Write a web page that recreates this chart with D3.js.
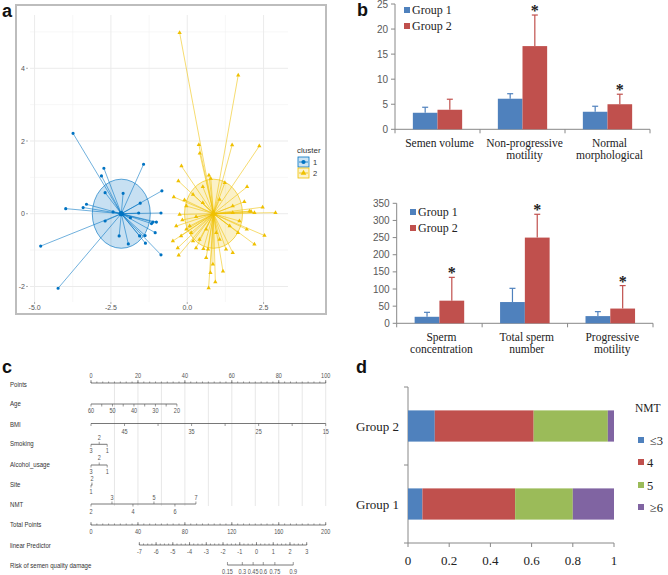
<!DOCTYPE html>
<html><head><meta charset="utf-8">
<script src="https://cdn.jsdelivr.net/npm/d3@7"></script>
<style>body{margin:0;background:#fff}svg{display:block}</style>
</head><body><svg id="chart" width="668" height="575"></svg>
<script>
// ================= DATA =================
// Panel a: cluster plot
const clusterNames = ["1", "2"];
const cluster1Center = [-2.16, 0.0];
const cluster2Center = [0.86, 0.0];
const clusterRadius = [0.95, 0.95];
const cluster1Points = [
  [-3.74,2.21],[-2.73,1.25],[-2.81,1.04],[-1.43,1.36],[-0.83,0.63],[-2.10,0.56],[-2.69,0.58],
  [-1.54,0.29],[-3.30,0.26],[-3.41,0.17],[-3.98,0.14],[-2.43,0.05],[-1.59,0.02],[-0.86,0.02],
  [-1.86,-0.11],[-1.12,-0.23],[-1.01,-0.23],[-1.17,-0.27],[-2.69,-0.20],[-1.05,-0.52],
  [-1.38,-0.60],[-1.56,-0.61],[-2.23,-0.61],[-1.93,-0.83],[-1.37,-0.81],[-0.86,-1.13],
  [-4.80,-0.89],[-4.23,-2.05]
];
const cluster2Points = [
  [-0.25,4.98],[1.67,3.81],[2.36,1.86],[1.47,1.89],[0.38,1.90],[0.41,1.66],[-0.19,1.31],
  [0.71,1.06],[0.77,0.97],[-0.29,0.90],[1.23,0.85],[1.96,0.74],[0.51,0.74],[0.19,0.53],
  [-0.44,0.46],[-0.09,0.38],[1.87,0.33],[2.47,0.18],[2.89,0.03],[2.04,0.07],[2.09,0.06],
  [1.49,0.03],[-0.25,-0.02],[-0.16,-0.17],[0.29,-0.08],[-0.36,-0.34],[-0.03,-0.43],
  [0.13,-0.52],[-0.47,-0.75],[1.95,-0.43],[2.53,-0.60],[2.20,-0.84],[1.49,-1.07],
  [1.27,-0.98],[-0.31,-0.94],[0.29,-0.94],[0.53,-0.96],[0.68,-0.98],[-0.28,-1.14],
  [0.62,-1.21],[0.84,-1.39],[1.17,-1.58],[0.76,-1.62],[0.92,-1.88],[0.70,-2.04],
  [0.40,-0.71],[1.06,-0.71],[0.08,-0.34],[1.39,-0.34],[1.71,-0.20],[0.51,0.30],
  [1.06,0.39],[1.49,0.21],[-0.03,0.21],[0.62,-0.43],[0.95,-0.52],[0.19,-0.75],
  [1.66,-0.52],[-0.20,-0.61],[2.20,0.03]
];
const scatterXTicks = [-5, -2.5, 0, 2.5];
const scatterXTickLabels = ["-5.0", "-2.5", "0.0", "2.5"];
const scatterYTicks = [-2, 0, 2, 4];

// Panel b: grouped bar charts
const groups = ["Group 1", "Group 2"];
const topCategories = ["Semen volume", "Non-progressive motility", "Normal morphological"];
const topCategoryLines = [["Semen volume"], ["Non-progressive", "motility"], ["Normal", "morphological"]];
const topGroup1 = [3.3, 6.1, 3.5];
const topGroup2 = [3.9, 16.6, 5.0];
const topGroup1Err = [1.1, 1.0, 1.1];
const topGroup2Err = [2.1, 6.2, 2.0];
const topSignificant = [false, true, true];
const topYTicks = [0, 5, 10, 15, 20, 25];

const bottomCategories = ["Sperm concentration", "Total sperm number", "Progressive motility"];
const bottomCategoryLines = [["Sperm", "concentration"], ["Total sperm", "number"], ["Progressive", "motility"]];
const bottomGroup1 = [19, 62, 21];
const bottomGroup2 = [66, 250, 43];
const bottomGroup1Err = [13, 40, 13];
const bottomGroup2Err = [68, 68, 67];
const bottomSignificant = [true, true, true];
const bottomYTicks = [0, 50, 100, 150, 200, 250, 300, 350];

// Panel c: nomogram
const nomoRows = ["Points", "Age", "BMI", "Smoking", "Alcohol_usage", "Site", "NMT", "Total Points", "linear Predictor", "Risk of semen quality damage"];
const pointsTicks = [0, 20, 40, 60, 80, 100];
const ageRange = [60, 20], agePointsRange = [0, 36.6];
const ageTicks = [60, 55, 50, 45, 40, 35, 30, 25, 20];
const ageLabels = [60, 50, 40, 30, 20];
const bmiRange = [50, 15], bmiPointsRange = [0, 100];
const bmiTicks = [50, 45, 40, 35, 30, 25, 20, 15];
const bmiLabels = [45, 35, 25, 15];
const smokingLevels = ["3", "2", "1"], smokingPoints = [0, 3.5, 6.9];
const alcoholLevels = ["3", "2", "1"], alcoholPoints = [0, 3.5, 6.9];
const siteLevels = ["1", "2"], sitePoints = [0, 0.4];
const nmtRange = [2, 7], nmtPointsRange = [0, 44.7];
const nmtLevels = [2, 3, 4, 5, 6, 7];
const totalPointsTicks = [0, 40, 80, 120, 160, 200];
const lpRange = [-7, 3], lpTotalRange = [41.2, 183.8];
const lpTicks = [-7, -6, -5, -4, -3, -2, -1, 0, 1, 2, 3];
const riskTicks = [0.15, 0.3, 0.45, 0.6, 0.75, 0.9];
const riskLabels = ["0.15", "0.3", "0.45", "0.6", "0.75", "0.9"];

// Panel d: stacked proportions
const nmtCategories = ["≤3", "4", "5", "≥6"];
const stackGroups = ["Group 2", "Group 1"];
const group1Props = [0.07, 0.45, 0.28, 0.20];
const group2Props = [0.13, 0.48, 0.36, 0.03];
const stackXTicks = [0, 0.2, 0.4, 0.6, 0.8, 1];
const stackXTickLabels = ["0", "0.2", "0.4", "0.6", "0.8", "1"];

// ================= DRAW =================
const svg = d3.select("#chart");
const SANS = "'Liberation Sans', Arial, sans-serif";
const SERIF = "'Liberation Serif', 'Times New Roman', serif";
const blue = "#4F81BD", red = "#C0504D", green = "#9BBB59", purple = "#8064A2";

function panelLetter(t, x, y) {
  svg.append("text").attr("x", x).attr("y", y).text(t)
    .attr("font-family", SANS).attr("font-weight", "bold").attr("font-size", 18).attr("fill", "#111");
}

// ---------- Panel a ----------
(function () {
  const g = svg.append("g");
  g.append("rect").attr("x", 16).attr("y", 5).attr("width", 310).attr("height", 309)
    .attr("fill", "#fff").attr("stroke", "#bdbdbd").attr("stroke-width", 2);
  const x = d3.scaleLinear([-5.15, 3.3], [30, 288]);
  const y = d3.scaleLinear([-2.4, 5.3], [301, 21]);
  const xMinor = [-3.75, -1.25, 1.25], yMinor = [-1, 1, 3, 5];
  g.selectAll(".vgm").data(xMinor).join("line").attr("x1", d => x(d)).attr("x2", d => x(d))
    .attr("y1", 15).attr("y2", 302).attr("stroke", "#f2f2f2").attr("stroke-width", 0.6);
  g.selectAll(".hgm").data(yMinor).join("line").attr("y1", d => y(d)).attr("y2", d => y(d))
    .attr("x1", 30).attr("x2", 288).attr("stroke", "#f2f2f2").attr("stroke-width", 0.6);
  g.selectAll(".vg").data(scatterXTicks).join("line").attr("x1", d => x(d)).attr("x2", d => x(d))
    .attr("y1", 15).attr("y2", 302).attr("stroke", "#ebebeb").attr("stroke-width", 1);
  g.selectAll(".hg").data(scatterYTicks).join("line").attr("y1", d => y(d)).attr("y2", d => y(d))
    .attr("x1", 30).attr("x2", 288).attr("stroke", "#ebebeb").attr("stroke-width", 1);
  g.selectAll(".xt").data(scatterXTicks).join("line").attr("x1", d => x(d)).attr("x2", d => x(d))
    .attr("y1", 302).attr("y2", 304).attr("stroke", "#777").attr("stroke-width", 0.6);
  g.selectAll(".xl").data(scatterXTicks).join("text").attr("x", d => x(d)).attr("y", 310)
    .attr("text-anchor", "middle").attr("font-family", SANS).attr("font-size", 7).attr("fill", "#555")
    .text((d, i) => scatterXTickLabels[i]);
  g.selectAll(".yt").data(scatterYTicks).join("line").attr("y1", d => y(d)).attr("y2", d => y(d))
    .attr("x1", 26).attr("x2", 28).attr("stroke", "#777").attr("stroke-width", 0.6);
  g.selectAll(".yl").data(scatterYTicks).join("text").attr("x", 25).attr("y", d => y(d) + 2.5)
    .attr("text-anchor", "end").attr("font-family", SANS).attr("font-size", 7).attr("fill", "#555").text(d => d);

  const clusters = [
    { c: cluster1Center, pts: cluster1Points, col: "#0073C2", r: clusterRadius[0], shape: d3.symbolCircle, size: 8 },
    { c: cluster2Center, pts: cluster2Points, col: "#EFC000", r: clusterRadius[1], shape: d3.symbolTriangle, size: 8 }
  ];
  clusters.forEach(cl => {
    g.append("ellipse").attr("cx", x(cl.c[0])).attr("cy", y(cl.c[1]))
      .attr("rx", x(cl.c[0] + cl.r) - x(cl.c[0])).attr("ry", y(cl.c[1]) - y(cl.c[1] + cl.r))
      .attr("fill", cl.col).attr("fill-opacity", 0.22).attr("stroke", cl.col).attr("stroke-opacity", 0.8).attr("stroke-width", 0.8);
  });
  clusters.forEach(cl => {
    g.selectAll(null).data(cl.pts).join("line")
      .attr("x1", x(cl.c[0])).attr("y1", y(cl.c[1])).attr("x2", d => x(d[0])).attr("y2", d => y(d[1]))
      .attr("stroke", cl.col).attr("stroke-opacity", 0.7).attr("stroke-width", 0.8);
    g.selectAll(null).data(cl.pts).join("path")
      .attr("transform", d => `translate(${x(d[0])},${y(d[1])})`)
      .attr("d", d3.symbol().type(cl.shape).size(cl.size)).attr("fill", cl.col);
    g.append("path").attr("transform", `translate(${x(cl.c[0])},${y(cl.c[1])})`)
      .attr("d", d3.symbol().type(cl.shape).size(22)).attr("fill", cl.col);
  });
  g.append("text").attr("x", 297).attr("y", 153).text("cluster").attr("font-family", SANS).attr("font-size", 8).attr("fill", "#333");
  clusters.forEach((cl, i) => {
    const ky = 157 + i * 11;
    g.append("rect").attr("x", 298).attr("y", ky).attr("width", 11).attr("height", 10)
      .attr("fill", cl.col).attr("fill-opacity", 0.2).attr("stroke", cl.col).attr("stroke-width", 0.8);
    g.append("line").attr("x1", 299).attr("x2", 308).attr("y1", ky + 5).attr("y2", ky + 5).attr("stroke", cl.col).attr("stroke-width", 0.8);
    g.append("path").attr("transform", `translate(303.5,${ky + 5})`).attr("d", d3.symbol().type(cl.shape).size(14)).attr("fill", cl.col);
    g.append("text").attr("x", 313).attr("y", ky + 8).text(clusterNames[i]).attr("font-family", SANS).attr("font-size", 7.5).attr("fill", "#333");
  });
  panelLetter("a", 2, 17);
})();

// ---------- Panel b ----------
function groupedBars(cfg) {
  const g = svg.append("g");
  const x0 = d3.scaleBand().domain(cfg.categories).range([cfg.left, cfg.right]).paddingInner(0.42).paddingOuter(0.21);
  const x1 = d3.scaleBand().domain(groups).range([0, x0.bandwidth()]);
  const y = d3.scaleLinear([0, cfg.max], [cfg.bottom, cfg.top]);
  const cols = [blue, red];
  g.append("line").attr("x1", cfg.left).attr("x2", cfg.left).attr("y1", cfg.top).attr("y2", cfg.bottom).attr("stroke", "#888");
  g.append("line").attr("x1", cfg.left).attr("x2", cfg.right).attr("y1", cfg.bottom).attr("y2", cfg.bottom).attr("stroke", "#888");
  g.selectAll(null).data(cfg.yTicks).join("line").attr("x1", cfg.left - 4).attr("x2", cfg.left)
    .attr("y1", d => y(d)).attr("y2", d => y(d)).attr("stroke", "#888");
  g.selectAll(null).data(cfg.yTicks).join("text").attr("x", cfg.left - 7).attr("y", d => y(d) + 3.5)
    .attr("text-anchor", "end").attr("font-family", SANS).attr("font-size", 10).attr("fill", "#595959").text(d => d);
  const step = x0.step();
  const seps = d3.range(cfg.categories.length + 1).map(i => cfg.left + i * step);
  g.selectAll(null).data(seps).join("line").attr("x1", d => d).attr("x2", d => d)
    .attr("y1", cfg.bottom).attr("y2", cfg.bottom + 4).attr("stroke", "#888");
  cfg.categories.forEach((c, i) => {
    const vals = [cfg.g1[i], cfg.g2[i]], errs = [cfg.e1[i], cfg.e2[i]];
    groups.forEach((gr, j) => {
      const bx = x0(c) + x1(gr), bw = x1.bandwidth(), cx = bx + bw / 2;
      g.append("rect").attr("x", bx).attr("y", y(vals[j])).attr("width", bw).attr("height", y(0) - y(vals[j])).attr("fill", cols[j]);
      const top = y(vals[j] + errs[j]);
      g.append("line").attr("x1", cx).attr("x2", cx).attr("y1", y(vals[j])).attr("y2", top).attr("stroke", cols[j]).attr("stroke-width", 1.2);
      g.append("line").attr("x1", cx - 3).attr("x2", cx + 3).attr("y1", top).attr("y2", top).attr("stroke", cols[j]).attr("stroke-width", 1.2);
      if (j === 1 && cfg.sig[i]) {
        g.append("text").attr("x", cx).attr("y", top + 1).attr("text-anchor", "middle")
          .attr("font-family", SERIF).attr("font-weight", "bold").attr("font-size", 16).attr("fill", "#222").text("*");
      }
    });
    cfg.lines[i].forEach((ln, k) => {
      g.append("text").attr("x", x0(c) + x0.bandwidth() / 2 + 2).attr("y", cfg.bottom + 18 + k * 12)
        .attr("text-anchor", "middle").attr("font-family", SERIF).attr("font-size", 11.5).attr("fill", "#222").text(ln);
    });
  });
  groups.forEach((gr, j) => {
    const ly = cfg.legY + j * 16;
    g.append("rect").attr("x", cfg.legX).attr("y", ly - 3).attr("width", 6).attr("height", 6).attr("fill", cols[j]);
    g.append("text").attr("x", cfg.legX + 8).attr("y", ly + 4).attr("font-family", SERIF).attr("font-size", 12).attr("fill", "#222").text(gr);
  });
}
groupedBars({ categories: topCategories, lines: topCategoryLines, g1: topGroup1, g2: topGroup2, e1: topGroup1Err, e2: topGroup2Err,
  sig: topSignificant, yTicks: topYTicks, max: 25, left: 395, right: 650, top: 4, bottom: 129.3, legX: 404, legY: 10 });
groupedBars({ categories: bottomCategories, lines: bottomCategoryLines, g1: bottomGroup1, g2: bottomGroup2, e1: bottomGroup1Err, e2: bottomGroup2Err,
  sig: bottomSignificant, yTicks: bottomYTicks, max: 350, left: 396.7, right: 653, top: 203.3, bottom: 323.3, legX: 410, legY: 212 });
panelLetter("b", 357, 16);

// ---------- Panel c ----------
(function () {
  const g = svg.append("g");
  const px = d3.scaleLinear([0, 100], [91, 325.7]);
  const tpx = d3.scaleLinear([0, 200], [91, 325.7]);
  const ageS = d3.scaleLinear(ageRange, agePointsRange);
  const bmiS = d3.scaleLinear(bmiRange, bmiPointsRange);
  const nmtS = d3.scaleLinear(nmtRange, nmtPointsRange);
  const lpS = d3.scaleLinear(lpRange, lpTotalRange);
  const logit = p => Math.log(p / (1 - p));
  const rowY = [383, 404, 423.5, 444.3, 465, 485, 504, 525, 545, 565];
  const labY = [384, 403, 424, 443, 464, 484, 504, 524, 545, 565];
  const stroke = "#555", tcol = "#555";
  g.selectAll(null).data(d3.range(10, 101, 10)).join("line").attr("x1", d => px(d)).attr("x2", d => px(d))
    .attr("y1", rowY[0]).attr("y2", 506).attr("stroke", "#dcdcdc").attr("stroke-width", 0.7);
  g.selectAll(null).data(nomoRows).join("text")
    .attr("transform", (d, i) => `translate(10,${labY[i] + 3}) scale(0.78,1)`)
    .attr("font-family", SANS).attr("font-size", 7.8).attr("fill", "#333").text(d => d);
  function hline(x1, x2, yy) { g.append("line").attr("x1", x1).attr("x2", x2).attr("y1", yy).attr("y2", yy).attr("stroke", stroke).attr("stroke-width", 0.8); }
  function tick(xx, yy, len) { g.append("line").attr("x1", xx).attr("x2", xx).attr("y1", yy).attr("y2", yy + len).attr("stroke", stroke).attr("stroke-width", 0.6); }
  function lab(xx, yy, t) {
    g.append("text").attr("transform", `translate(${xx},${yy + 2.3}) scale(0.85,1)`).attr("text-anchor", "middle")
      .attr("font-family", SANS).attr("font-size", 6.5).attr("fill", tcol).text(t);
  }
  // Points
  hline(px(0), px(100), rowY[0]);
  d3.range(0, 100.01, 2.5).forEach(v => tick(px(v), rowY[0], -1.5));
  pointsTicks.forEach(v => { tick(px(v), rowY[0], -3); lab(px(v), rowY[0] - 7, v); });
  // Age
  hline(px(ageS(ageRange[0])), px(ageS(ageRange[1])), rowY[1]);
  ageTicks.forEach(v => tick(px(ageS(v)), rowY[1], 2.5));
  ageLabels.forEach(v => lab(px(ageS(v)), rowY[1] + 7, v));
  // BMI
  hline(px(bmiS(bmiRange[0])), px(bmiS(bmiRange[1])), rowY[2]);
  bmiTicks.forEach(v => tick(px(bmiS(v)), rowY[2], 2.5));
  bmiLabels.forEach(v => lab(px(bmiS(v)), rowY[2] + 8, v));
  // Smoking & Alcohol
  [[smokingLevels, smokingPoints, rowY[3]], [alcoholLevels, alcoholPoints, rowY[4]]].forEach(([lv, pt, yy]) => {
    hline(px(d3.min(pt)), px(d3.max(pt)), yy);
    lv.forEach((l, i) => {
      const up = l === "2";
      tick(px(pt[i]), yy, up ? -2.5 : 2.5);
      lab(px(pt[i]), up ? yy - 7 : yy + 6.5, l);
    });
  });
  // Site
  hline(px(d3.min(sitePoints)), px(d3.max(sitePoints)) + 0.5, rowY[5]);
  siteLevels.forEach((l, i) => {
    const up = l === "2";
    tick(px(sitePoints[i]), rowY[5], up ? -2.5 : 2.5);
    lab(px(sitePoints[i]), up ? rowY[5] - 6 : rowY[5] + 6.5, l);
  });
  // NMT
  hline(px(nmtS(nmtRange[0])), px(nmtS(nmtRange[1])), rowY[6]);
  nmtLevels.forEach((v, i) => {
    const up = i % 2 === 1;
    tick(px(nmtS(v)), rowY[6], up ? -2.5 : 2.5);
    lab(px(nmtS(v)), up ? rowY[6] - 6.5 : rowY[6] + 7.5, v);
  });
  // Total points
  hline(tpx(0), tpx(200), rowY[7]);
  d3.range(0, 200.01, 5).forEach(v => tick(tpx(v), rowY[7], -1.5));
  totalPointsTicks.forEach(v => { tick(tpx(v), rowY[7], -3); lab(tpx(v), rowY[7] + 6.5, v); });
  // linear predictor
  hline(tpx(lpS(lpRange[0])), tpx(lpS(lpRange[1])), rowY[8]);
  d3.range(-7, 3.01, 0.25).forEach(v => tick(tpx(lpS(v)), rowY[8], -1.5));
  lpTicks.forEach(v => { tick(tpx(lpS(v)), rowY[8], -3); lab(tpx(lpS(v)), rowY[8] + 6.5, v); });
  // risk
  hline(tpx(lpS(logit(riskTicks[0]))), tpx(lpS(logit(riskTicks[riskTicks.length - 1]))), rowY[9]);
  riskTicks.forEach((v, i) => { tick(tpx(lpS(logit(v))), rowY[9], -3); lab(tpx(lpS(logit(v))), rowY[9] + 7, riskLabels[i]); });
  panelLetter("c", 2, 373);
})();

// ---------- Panel d ----------
(function () {
  const g = svg.append("g");
  const x = d3.scaleLinear([0, 1], [408, 614]);
  const y = d3.scaleBand().domain(stackGroups).range([387, 543]).paddingInner(0.6).paddingOuter(0.3);
  const cols = [blue, red, green, purple];
  const props = { "Group 1": group1Props, "Group 2": group2Props };
  g.append("line").attr("x1", 408).attr("x2", 408).attr("y1", 387).attr("y2", 543).attr("stroke", "#888");
  g.append("line").attr("x1", 408).attr("x2", 614).attr("y1", 543).attr("y2", 543).attr("stroke", "#888");
  [387, 387 + y.step(), 543].forEach(v => g.append("line").attr("x1", 404).attr("x2", 408).attr("y1", v).attr("y2", v).attr("stroke", "#888"));
  g.selectAll(null).data(stackXTicks).join("line").attr("x1", d => x(d)).attr("x2", d => x(d)).attr("y1", 543).attr("y2", 547).attr("stroke", "#888");
  g.selectAll(null).data(stackXTicks).join("text").attr("x", d => x(d)).attr("y", 565).attr("text-anchor", "middle")
    .attr("font-family", SERIF).attr("font-size", 13).attr("fill", "#222").text((d, i) => stackXTickLabels[i]);
  stackGroups.forEach(gr => {
    let acc = 0;
    props[gr].forEach((p, i) => {
      g.append("rect").attr("x", x(acc)).attr("y", y(gr)).attr("width", x(acc + p) - x(acc)).attr("height", y.bandwidth()).attr("fill", cols[i]);
      acc += p;
    });
    g.append("text").attr("x", 399).attr("y", y(gr) + y.bandwidth() / 2 + 4.5).attr("text-anchor", "end")
      .attr("font-family", SERIF).attr("font-size", 13).attr("fill", "#222").text(gr);
  });
  g.append("text").attr("x", 635).attr("y", 412).attr("font-family", SERIF).attr("font-size", 11.5).attr("fill", "#222").text("NMT");
  const ly = [440, 462, 485, 507];
  nmtCategories.forEach((c, i) => {
    g.append("rect").attr("x", 638).attr("y", ly[i] - 3).attr("width", 6).attr("height", 6).attr("fill", cols[i]);
    g.append("text").attr("x", i === 0 || i === 3 ? 650 : 647).attr("y", ly[i] + 4.5).attr("font-family", SERIF).attr("font-size", 12.5).attr("fill", "#222").text(c);
  });
  panelLetter("d", 356, 373);
})();
</script></body></html>
